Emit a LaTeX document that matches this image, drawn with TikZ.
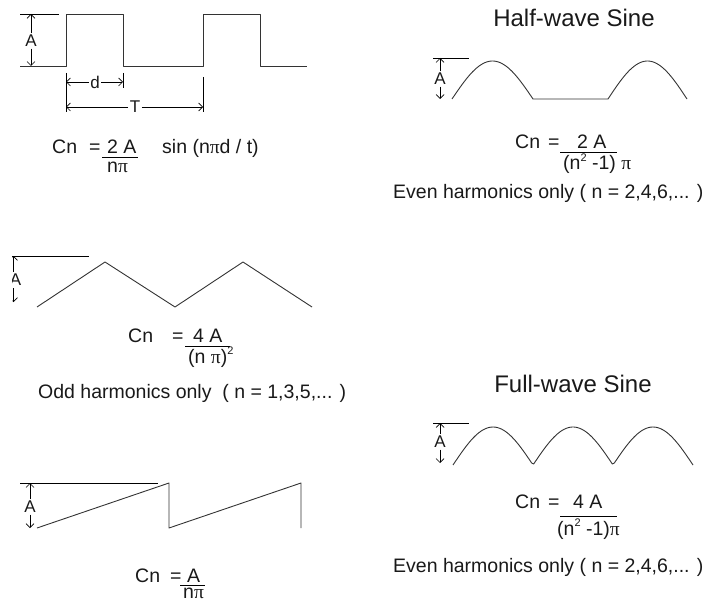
\documentclass[tikz,border=0pt]{standalone}
\usepackage{fontspec}
\setmainfont{Liberation Sans}
\newfontfamily\symfont{Liberation Serif}
\usetikzlibrary{arrows.meta}
\newcommand{\ppi}{{\symfont π}}
\newcommand{\sqtwo}{\raisebox{0.42em}{\fontsize{11}{11}\selectfont 2}}
\begin{document}
\begin{tikzpicture}[x=1pt,y=-1pt,
  wave/.style={line width=0.9pt, draw=black!80, line join=round},
  refl/.style={line width=0.9pt, draw=black},
  tickl/.style={line width=0.8pt, draw=black},
  dimarr/.style={line width=0.7pt, draw=black, -{Straight Barb[length=4pt,width=8pt]}},
  lbl/.style={inner sep=1.5pt, font=\fontsize{17}{19}\selectfont, text=black!90},
  txt/.style={inner sep=0pt, anchor=base west, font=\fontsize{19.5}{22}\selectfont, text=black!90},
  ttl/.style={inner sep=0pt, anchor=base, font=\fontsize{24}{27}\selectfont, text=black!90},
  fbar/.style={line width=0.8pt, draw=black}
]
\useasboundingbox (0,0) rectangle (708,601);

% ---------------- Square wave ----------------
\draw[wave] (20,66) -- (66,66) -- (66,14) -- (123,14) -- (123,66) -- (203,66) -- (203,14) -- (260,14) -- (260,66) -- (307,66);
\draw[refl] (20,14) -- (59,14);
\node[lbl] (sqA) at (31,41) {A};
\coordinate (sqAt) at (31,14);
\coordinate (sqAb) at (31,66);
\draw[dimarr] (sqA) -- (sqAt);
\draw[dimarr] (sqA) -- (sqAb);
\draw[tickl] (66,73) -- (66,112);
\draw[tickl] (123,73) -- (123,88);
\draw[tickl] (203,77) -- (203,112);
\node[lbl] (dlab) at (95,82) {d};
\coordinate (dL) at (66,82);
\coordinate (dR) at (123,82);
\draw[dimarr] (dlab) -- (dL);
\draw[dimarr] (dlab) -- (dR);
\node[lbl] (Tlab) at (135,107) {T};
\coordinate (TL) at (66,107);
\coordinate (TR) at (203,107);
\draw[dimarr] (Tlab) -- (TL);
\draw[dimarr] (Tlab) -- (TR);
\node[txt] (sqCn) at (52,154) {Cn};
\node[txt] (sqEq) at (89,154) {=};
\node[txt] (sqNum) at (107,154) {2 A};
\draw[fbar] (102,157) -- (138,157);
\node[txt] (sqDen) at (107,173) {n\ppi};
\node[txt] (sqSin) at (162,154) {sin (n\ppi d / t)};

% ---------------- Half-wave sine ----------------
\node[ttl] (hwT) at (574,27) {Half-wave Sine};
\draw[wave] plot[domain=0:180, samples=40] ({452+\x*0.45}, {99-38*sin(\x)})
  -- (608,99) -- plot[domain=0:180, samples=40] ({608+\x*0.4389}, {99-38*sin(\x)});
\draw[refl] (433,58) -- (469,58);
\node[lbl] (hwA) at (440,79) {A};
\coordinate (hwAt) at (440,58);
\coordinate (hwAb) at (440,99);
\draw[dimarr] (hwA) -- (hwAt);
\draw[dimarr] (hwA) -- (hwAb);
\node[txt] (hwCn) at (515,149) {Cn};
\node[txt] (hwEq) at (548,149) {=};
\node[txt] (hwNum) at (577,149) {2 A};
\draw[fbar] (560,152) -- (617,152);
\node[txt] (hwDen) at (563,170) {(n\sqtwo\ -1) \ppi};
\node[txt] (hwEven) at (393,199) {Even harmonics only ( n = 2,4,6,... )};

% ---------------- Triangle ----------------
\draw[wave] (37,307) -- (105,262) -- (175,307) -- (243,262) -- (312,307);
\draw[refl] (12,256) -- (89,256);
\begin{scope}
\clip (12.5,240) rectangle (40,320);
\node[lbl] (trA) at (15.5,280) {A};
\coordinate (trAt) at (13.5,256);
\coordinate (trAb) at (13.5,302);
\draw[dimarr] (13.5,272) -- (trAt);
\draw[dimarr] (13.5,288) -- (trAb);
\end{scope}
\node[txt] (trCn) at (128,342) {Cn};
\node[txt] (trEq) at (172,342) {=};
\node[txt] (trNum) at (193,342) {4 A};
\draw[fbar] (185,346) -- (230,346);
\node[txt] (trDen) at (188,363) {(n \ppi)\sqtwo};
\node[txt] (trOdd) at (38,398) {Odd harmonics only\ \ ( n = 1,3,5,... )};

% ---------------- Sawtooth ----------------
\draw[wave] (37,528) -- (169,483) -- (169,528) -- (301,483) -- (301,528);
\draw[refl] (20,483) -- (158,483);
\node[lbl] (swA) at (30,507) {A};
\coordinate (swAt) at (30,483);
\coordinate (swAb) at (30,528);
\draw[dimarr] (swA) -- (swAt);
\draw[dimarr] (swA) -- (swAb);
\node[txt] (swCn) at (135,582) {Cn};
\node[txt] (swEq) at (170,582) {=};
\node[txt] (swNum) at (187,582) {A};
\draw[fbar] (180,585) -- (205,585);
\node[txt] (swDen) at (183,598) {n\ppi};

% ---------------- Full-wave sine ----------------
\node[ttl] (fwT) at (573,392) {Full-wave Sine};
\draw[wave] plot[domain=0:540, samples=120] ({453+\x/2.25}, {465-38*abs(sin(\x))});
\draw[refl] (433,423) -- (469,423);
\node[lbl] (fwA) at (440,442) {A};
\coordinate (fwAt) at (440,423);
\coordinate (fwAb) at (440,463);
\draw[dimarr] (fwA) -- (fwAt);
\draw[dimarr] (fwA) -- (fwAb);
\node[txt] (fwCn) at (515,508) {Cn};
\node[txt] (fwEq) at (548,508) {=};
\node[txt] (fwNum) at (573,508) {4 A};
\draw[fbar] (560,516) -- (617,516);
\node[txt] (fwDen) at (557,535) {(n\sqtwo\ -1)\ppi};
\node[txt] (fwEven) at (393,572) {Even harmonics only ( n = 2,4,6,... )};
\end{tikzpicture}
\end{document}
